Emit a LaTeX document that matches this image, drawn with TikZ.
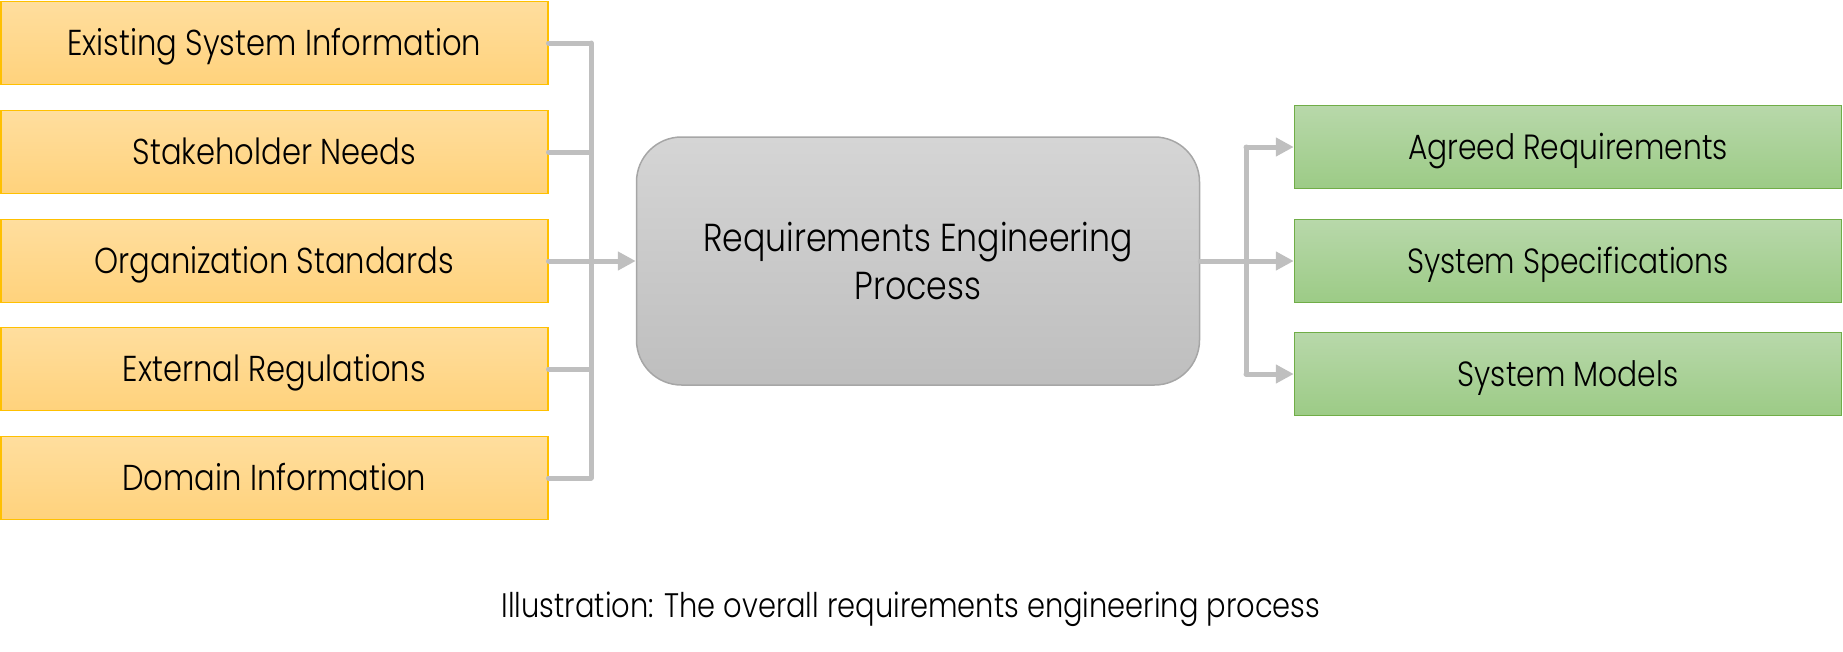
\documentclass[tikz,border=0pt]{standalone}
\usepackage{fontspec}
\setmainfont{Poppins}[UprightFont={* Light},FakeStretch=0.85]
\usetikzlibrary{arrows.meta}
\definecolor{inTop}{HTML}{FFDE9E}
\definecolor{inBot}{HTML}{FFD27C}
\definecolor{inEdge}{HTML}{FFC000}
\definecolor{outTop}{HTML}{B8D8AA}
\definecolor{outBot}{HTML}{9CCB86}
\definecolor{outEdge}{HTML}{70AD47}
\definecolor{procTop}{HTML}{D5D5D5}
\definecolor{procBot}{HTML}{BEBEBE}
\definecolor{procEdge}{HTML}{A6A6A6}
\definecolor{connGray}{HTML}{BFBFBF}

\begin{document}
\begin{tikzpicture}[x=1pt,y=-1pt,
    inbox/.style={draw=inEdge,line width=1.5pt,top color=inTop,bottom color=inBot,
      minimum width=547pt,minimum height=83pt,inner sep=0pt,
      text height=25pt,text depth=0pt,
      font=\fontsize{36}{42}\selectfont},
    outbox/.style={inbox,draw=outEdge,top color=outTop,bottom color=outBot,
      text height=24.5pt,font=\fontsize{35}{41}\selectfont},
    procbox/.style={draw=procEdge,line width=1.5pt,top color=procTop,bottom color=procBot,
      rounded corners=45pt,minimum width=563pt,minimum height=248pt,inner sep=0pt,
      align=center,font=\fontsize{39}{48}\selectfont},
    conn/.style={draw=connGray,line width=5pt,line cap=round},
    tip/.style={-{Triangle[length=18pt,width=18pt]}}]
  \useasboundingbox (0,0) rectangle (1843,651);

  \node[inbox] (exist) at (274.25,43) {Existing System Information};
  \node[inbox] (stake) at (274.25,152) {Stakeholder Needs};
  \node[inbox] (orgst) at (274.25,261) {Organization Standards};
  \node[inbox] (extreg) at (274.25,369) {External Regulations};
  \node[inbox] (domain) at (274.25,478) {Domain Information};

  \node[procbox] (rep) at (918,261) {Requirements Engineering\\Process};

  \node[outbox] (agreed) at (1568,147) {Agreed Requirements};
  \node[outbox] (spec) at (1568,261) {System Specifications};
  \node[outbox] (models) at (1568,374) {System Models};

  \node[font=\fontsize{34}{40}\selectfont] (caption) at (911,609)
    {Illustration: The overall requirements engineering process};

  \coordinate (lbus) at (591,0);
  \coordinate (rbus) at (1246,0);

  \draw[conn] (exist.east) -- (exist.east -| lbus);
  \draw[conn] (stake.east) -- (stake.east -| lbus);
  \draw[conn] (orgst.east) -- (orgst.east -| lbus);
  \draw[conn] (extreg.east) -- (extreg.east -| lbus);
  \draw[conn] (domain.east) -- (domain.east -| lbus);
  \draw[conn] (exist.east -| lbus) -- (domain.east -| lbus);
  \draw[conn,tip] (orgst.east -| lbus) -- (rep.west);

  \draw[conn] (rep.east) -- (rep.east -| rbus);
  \draw[conn] (agreed.west -| rbus) -- (models.west -| rbus);
  \draw[conn,tip] (agreed.west -| rbus) -- (agreed.west);
  \draw[conn,tip] (spec.west -| rbus) -- (spec.west);
  \draw[conn,tip] (models.west -| rbus) -- (models.west);
\end{tikzpicture}
\end{document}
